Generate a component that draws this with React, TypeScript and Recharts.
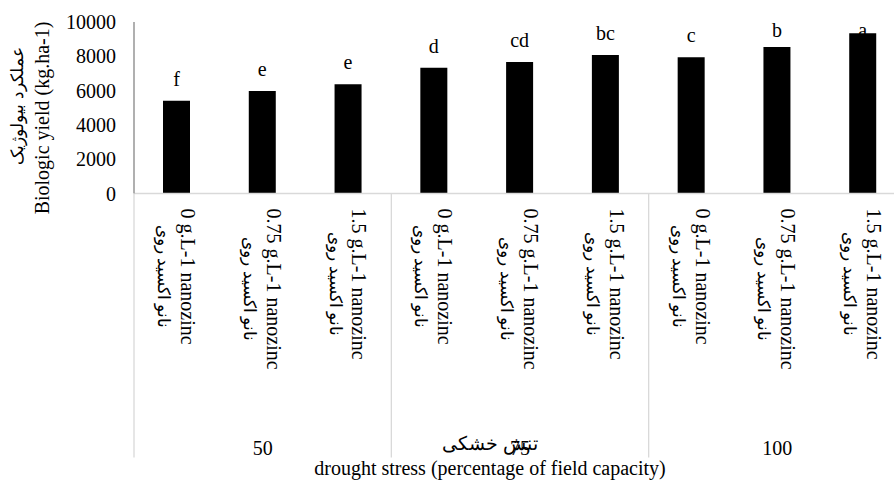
import React from 'react';
import { BarChart, Bar, XAxis, YAxis, LabelList } from 'recharts';

const doseLabels = [
    '0 g.L-1 nanozinc',
    '0.75 g.L-1 nanozinc',
    '1.5 g.L-1 nanozinc',
    '0 g.L-1 nanozinc',
    '0.75 g.L-1 nanozinc',
    '1.5 g.L-1 nanozinc',
    '0 g.L-1 nanozinc',
    '0.75 g.L-1 nanozinc',
    '1.5 g.L-1 nanozinc',
];
const doseLabelFa = 'نانو اکسید روی';
const droughtLevels = ['50', '50', '50', '75', '75', '75', '100', '100', '100'];
const yieldValues = [5410, 5980, 6370, 7335, 7670, 8075, 7940, 8540, 9340];
const letters = ['f', 'e', 'e', 'd', 'cd', 'bc', 'c', 'b', 'a'];
const yTicks = [0, 2000, 4000, 6000, 8000, 10000];

const data = yieldValues.map((v, i) => ({
    key: `${droughtLevels[i]}-${i}`,
    yield: v,
    letter: letters[i],
}));

const FONT = "'Liberation Serif', 'Times New Roman', 'DejaVu Serif', serif";
const FS = 20;
const FS_FA = 17;

let ctx: CanvasRenderingContext2D | null = null;
const measure = (s: string, size: number) => {
    if (!ctx) ctx = document.createElement('canvas').getContext('2d');
    if (!ctx) return s.length * 9;
    ctx.font = `${size}px ${FONT}`;
    return ctx.measureText(s).width;
};

// rotated two-line category label + group separators and drought level
const CategoryTick = (props: any) => {
    const { x, y, payload } = props;
    const i = payload.index;
    const half = payload.offset || 43;
    const block = Math.max(measure(doseLabels[i], FS), measure(doseLabelFa, FS_FA));
    return (
        <g>
            <g transform={`translate(${x},${y + 15}) rotate(90)`}>
                <text x={block / 2} y={-11} dy="0.35em" textAnchor="middle" fontSize={FS} fontFamily={FONT} fill="#000">
                    {doseLabels[i]}
                </text>
                <text x={block / 2} y={13} dy="0.35em" textAnchor="middle" fontSize={FS_FA} fontFamily={FONT} fill="#000">
                    {doseLabelFa}
                </text>
            </g>
            {i % 3 === 0 && (
                <line x1={x - half} x2={x - half} y1={y} y2={y + 264} stroke="#d9d9d9" strokeWidth={1.3} />
            )}
            {i === data.length - 1 && (
                <line x1={x + half} x2={x + half} y1={y} y2={y + 264} stroke="#d9d9d9" strokeWidth={1.3} />
            )}
            {i % 3 === 1 && (
                <text x={x} y={y + 254} dy="0.35em" textAnchor="middle" fontSize={FS} fontFamily={FONT} fill="#000">
                    {droughtLevels[i]}
                </text>
            )}
        </g>
    );
};

const XTitle = (props: any) => {
    const vb = props.viewBox || { x: 134, y: 193.5, width: 772 };
    const cx = vb.x + vb.width / 2 - 30;
    return (
        <g>
            <text x={cx} y={vb.y + 250} dy="0.35em" textAnchor="middle" fontSize={FS - 1} fontFamily={FONT} fill="#000">
                تنش خشکی
            </text>
            <text x={cx} y={vb.y + 274} dy="0.35em" textAnchor="middle" fontSize={FS} fontFamily={FONT} fill="#000">
                drought stress (percentage of field capacity)
            </text>
        </g>
    );
};

const YTitle = () => {
    const cy = 118;
    return (
        <g>
            <text transform={`translate(17,${cy - 12}) rotate(-90)`} dy="0.35em" textAnchor="middle" fontSize={FS_FA} fontFamily={FONT} fill="#000">
                عملکرد بیولوژیک
            </text>
            <text transform={`translate(42,${cy}) rotate(-90)`} dy="0.35em" textAnchor="middle" fontSize={FS} fontFamily={FONT} fill="#000">
                Biologic yield (kg.ha-1)
            </text>
        </g>
    );
};

const LetterLabel = (props: any) => {
    const { x, y, width, value } = props;
    // letters sit above the bar, pushed inside when they would pass the plot top
    const ty = Math.max(Number(y) - 22, 30);
    return (
        <text x={Number(x) + Number(width) / 2} y={ty} dy="0.35em" textAnchor="middle" fontSize={FS} fontFamily={FONT} fill="#000">
            {value}
        </text>
    );
};

export default function App() {
    return (
        <div style={{ position: 'fixed', left: 0, top: 0, width: 894, height: 483, overflow: 'hidden', background: '#fff' }}>
            <BarChart
                width={910}
                height={483}
                data={data}
                margin={{ top: 22, right: 4, left: 74, bottom: 19.5 }}
                barCategoryGap={0}
            >
                <XAxis
                    dataKey="key"
                    height={270}
                    interval={0}
                    tickLine={false}
                    tickSize={0}
                    tickMargin={0}
                    axisLine={{ stroke: '#d9d9d9', strokeWidth: 1.3 }}
                    tick={<CategoryTick />}
                    label={(p: any) => <XTitle {...p} />}
                />
                <YAxis
                    width={60}
                    domain={[0, 10000]}
                    ticks={yTicks}
                    interval={0}
                    tickLine={false}
                    tickMargin={12}
                    axisLine={{ stroke: '#868686', strokeWidth: 1.3 }}
                    tick={{ fill: '#000', fontSize: FS, fontFamily: FONT }}
                    label={() => <YTitle />}
                />
                <Bar dataKey="yield" fill="#000" barSize={27} isAnimationActive={false}>
                    <LabelList dataKey="letter" content={<LetterLabel />} />
                </Bar>
            </BarChart>
        </div>
    );
}
